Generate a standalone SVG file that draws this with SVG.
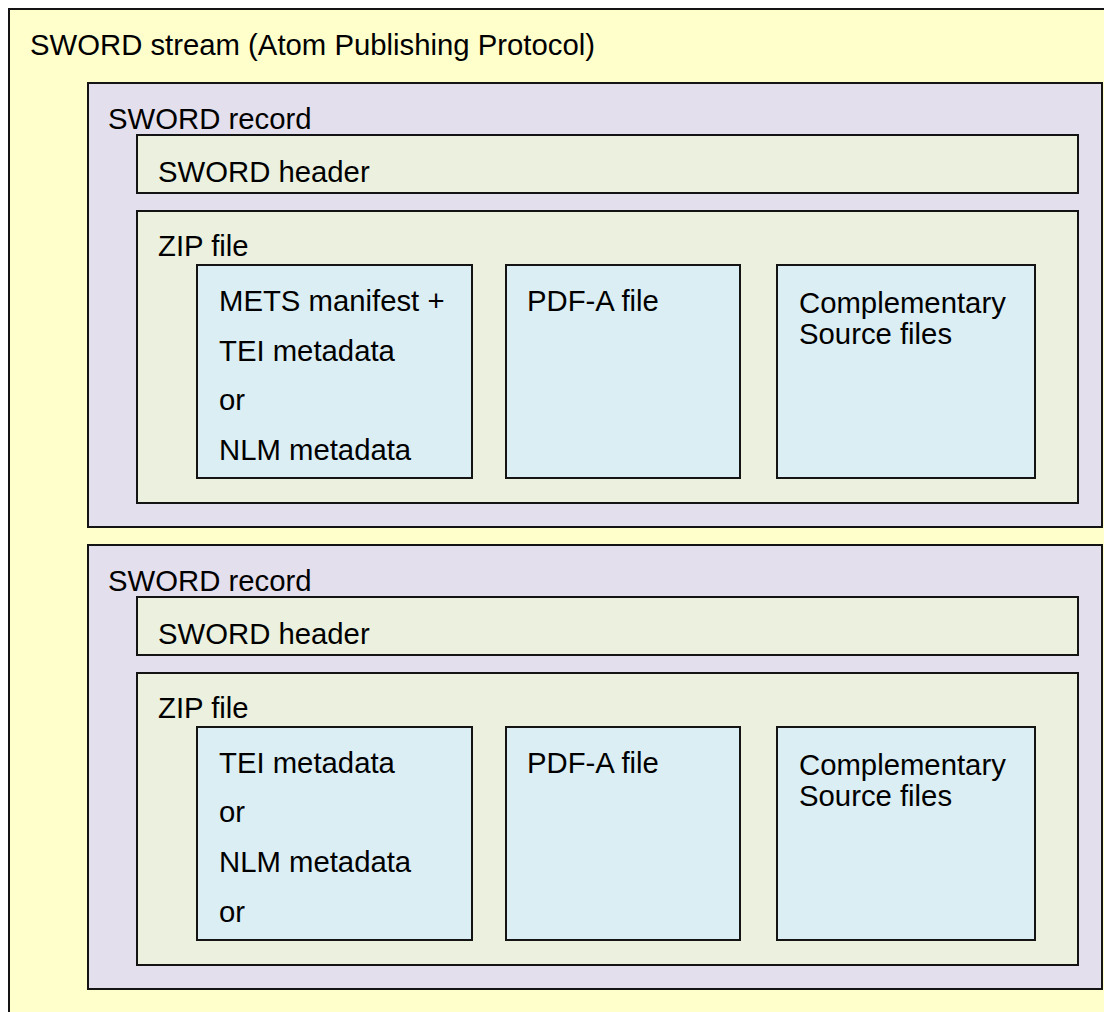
<svg xmlns="http://www.w3.org/2000/svg" width="1104" height="1012" viewBox="0 0 1104 1012">
  <style>
    rect { stroke: #141414; stroke-width: 2; }
    .stream { fill: #FFFFCC; }
    .record { fill: #E4DFEC; }
    .green { fill: #EBF1DE; }
    .blue { fill: #DBEEF3; }
    text { font-family: "Liberation Sans", Arial, sans-serif; font-size: 29.3px; fill: #000; }
  </style>
  <rect width="1104" height="1012" fill="#ffffff" style="stroke:none"/>
  <g id="stream">
    <rect class="stream" x="9" y="9" width="1110" height="1020"/>
    <text x="30" y="55">SWORD stream (Atom Publishing Protocol)</text>
  </g>
  <g id="record1">
    <rect class="record" x="88" y="83" width="1014" height="444"/>
    <text x="108" y="129">SWORD record</text>
    <g id="header1">
      <rect class="green" x="137" y="135" width="941" height="58"/>
      <text x="158" y="182">SWORD header</text>
    </g>
    <g id="zip1">
      <rect class="green" x="137" y="211" width="941" height="292"/>
      <text x="158" y="256">ZIP file</text>
    </g>
    <g id="meta1">
      <rect class="blue" x="197" y="265" width="275" height="213"/>
      <text x="219" y="311">METS manifest +</text>
      <text x="219" y="361">TEI metadata</text>
      <text x="219" y="410">or</text>
      <text x="219" y="460">NLM metadata</text>
    </g>
    <g id="pdf1">
      <rect class="blue" x="506" y="265" width="234" height="213"/>
      <text x="527" y="311">PDF-A file</text>
    </g>
    <g id="src1">
      <rect class="blue" x="777" y="265" width="258" height="213"/>
      <text x="799" y="313">Complementary</text>
      <text x="799" y="344">Source files</text>
    </g>
  </g>
  <g id="record2">
    <rect class="record" x="88" y="545" width="1014" height="444"/>
    <text x="108" y="591">SWORD record</text>
    <g id="header2">
      <rect class="green" x="137" y="597" width="941" height="58"/>
      <text x="158" y="644">SWORD header</text>
    </g>
    <g id="zip2">
      <rect class="green" x="137" y="673" width="941" height="292"/>
      <text x="158" y="718">ZIP file</text>
    </g>
    <g id="meta2">
      <rect class="blue" x="197" y="727" width="275" height="213"/>
      <text x="219" y="773">TEI metadata</text>
      <text x="219" y="822">or</text>
      <text x="219" y="872">NLM metadata</text>
      <text x="219" y="922">or</text>
    </g>
    <g id="pdf2">
      <rect class="blue" x="506" y="727" width="234" height="213"/>
      <text x="527" y="773">PDF-A file</text>
    </g>
    <g id="src2">
      <rect class="blue" x="777" y="727" width="258" height="213"/>
      <text x="799" y="775">Complementary</text>
      <text x="799" y="806">Source files</text>
    </g>
  </g>
  <g id="connectors"/>
</svg>
